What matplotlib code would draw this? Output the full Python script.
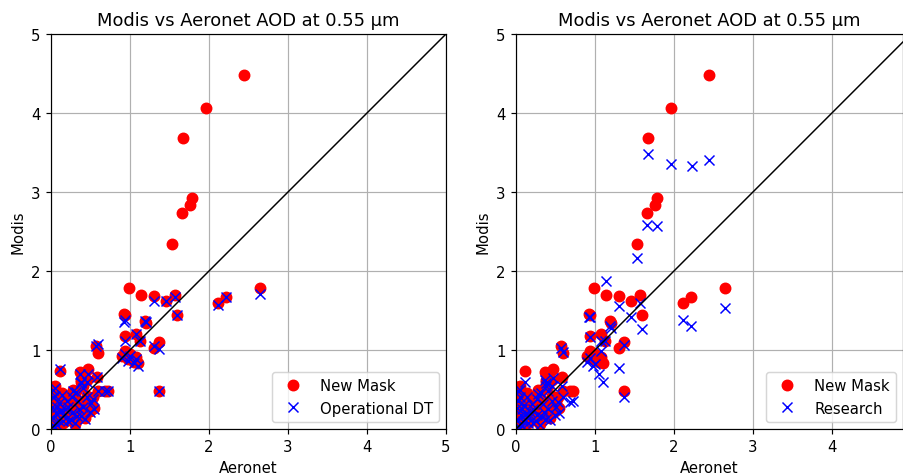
import numpy as np
import matplotlib
matplotlib.use("Agg")
import matplotlib.pyplot as plt

nan = np.nan

# Aeronet AOD and the matching Modis retrievals (nan = no retrieval)
aeronet = [2.44, 1.96, 1.67, 1.78, 1.76, 1.66, 1.53, 2.23,
           0.99, 1.14, 1.30, 1.46, 1.57, 2.12, 2.21, 2.65, 0.92, 0.94, 1.19, 1.20,
           1.60, 0.94, 1.08, 1.13, 1.37, 1.30, 0.57, 0.60, 0.94, 1.08, 1.00, 1.05,
           1.10, 1.37, 0.11, 0.37, 0.47, 0.58, 0.68, 0.72, 0.90, 0.97,
           0.38, 0.59, 0.38, 0.32, 0.26, 0.36, 0.38, 0.51, 0.55, 0.49, 0.05, 0.03,
           0.07, 0.13, 0.17, 0.22, 0.09, 0.03, 0.30, 0.43, 0.01, 0.03, 0.05, 0.34,
           0.45, 0.22, 0.26, 0.12, 0.15, 0.02, 0.08, 0.20, 0.28, 0.41, 0.33, 0.18,
           0.10, 0.06, 0.25, 0.46, 0.53, 0.40, 0.04, 0.14]
new_mask = [4.48, 4.06, 3.68, 2.92, 2.84, 2.73, 2.34, nan,
            1.78, 1.70, 1.68, 1.62, 1.70, 1.60, 1.67, 1.78, 1.46, 1.44, 1.37, 1.34,
            1.44, 1.18, 1.20, 1.12, 1.10, 1.03, 1.05, 0.96, 0.99, 0.91, 0.95, 0.85,
            0.83, 0.48, 0.74, 0.72, 0.76, 0.66, 0.48, 0.48, 0.92, 0.88,
            0.59, 0.48, 0.15, 0.48, 0.42, 0.25, 0.62, 0.34, 0.27, 0.23, 0.55, 0.42,
            0.30, 0.25, 0.17, 0.11, 0.11, 0.06, 0.06, 0.14, 0.30, 0.53, 0.44, 0.36,
            0.42, 0.30, 0.21, 0.20, 0.08, 0.15, 0.05, 0.38, 0.50, 0.55, 0.18, 0.26,
            0.35, 0.22, 0.12, 0.62, 0.40, 0.30, 0.02, 0.45]
operational_dt = [nan, nan, nan, nan, nan, nan, nan, nan,
                  nan, nan, 1.62, 1.62, 1.67, 1.57, 1.67, 1.71, 1.36, 1.38, 1.37, 1.35,
                  1.44, 1.12, 1.20, 1.12, 1.01, 1.05, 1.05, 1.07, 0.95, 0.88, 0.92, 0.83,
                  0.80, 0.48, 0.76, 0.70, 0.70, 0.66, 0.48, 0.48, 0.90, 0.86,
                  0.58, 0.48, 0.17, 0.47, 0.40, 0.25, 0.60, 0.33, 0.25, 0.22, 0.52, 0.40,
                  0.28, 0.24, 0.18, 0.10, 0.12, 0.05, 0.07, 0.13, 0.28, 0.50, 0.42, 0.35,
                  0.40, 0.28, 0.20, 0.22, 0.10, 0.14, 0.05, 0.36, 0.48, 0.52, 0.17, 0.25,
                  0.33, 0.20, 0.11, 0.60, 0.38, 0.28, 0.03, 0.43]
research = [3.40, 3.35, 3.48, 2.57, nan, 2.58, 2.17, 3.33,
            nan, 1.87, 1.56, 1.42, 1.59, 1.38, 1.30, 1.53, 1.42, 1.42, 1.31, 1.28,
            1.27, 1.17, 1.12, 1.12, 1.06, 0.77, 1.02, 0.97, 0.90, 0.99, 0.82, 0.70,
            0.59, 0.40, 0.59, 0.62, 0.65, 0.55, 0.34, 0.36, 0.85, 0.80,
            0.55, 0.40, 0.13, 0.45, 0.38, 0.22, 0.58, 0.28, 0.20, 0.18, 0.50, 0.36,
            0.25, 0.20, 0.15, 0.08, 0.10, 0.04, 0.05, 0.11, 0.26, 0.48, 0.40, 0.32,
            0.36, 0.25, 0.18, 0.18, 0.08, 0.12, 0.04, 0.32, 0.44, 0.48, 0.15, 0.22,
            0.30, 0.18, 0.10, 0.55, 0.34, 0.25, 0.02, 0.40]

title = "Modis vs Aeronet AOD at 0.55 µm"

dpi = 107
fig = plt.figure(figsize=(903 / dpi, 477 / dpi), dpi=dpi)
ax1 = fig.add_axes([51 / 903, 47 / 477, 395 / 903, 395 / 477])
ax2 = fig.add_axes([516 / 903, 47 / 477, 387 / 903, 395 / 477])

panels = [(ax1, operational_dt, "Operational DT", 5.0),
          (ax2, research, "Research", 4.9)]

for ax, other, label, xmax in panels:
    ax.plot(aeronet, new_mask, "o", color="red", markersize=7, label="New Mask")
    ax.plot(aeronet, other, "x", color="blue", markersize=7, label=label)
    ax.plot([0, xmax], [0, xmax], color="black", linewidth=1)
    ax.set_xlim(0, xmax)
    ax.set_ylim(0, 5)
    ax.set_xticks([0, 1, 2, 3, 4, 5] if xmax >= 5 else [0, 1, 2, 3, 4])
    ax.set_yticks([0, 1, 2, 3, 4, 5])
    ax.grid(True)
    ax.set_xlabel("Aeronet")
    ax.set_ylabel("Modis")
    ax.set_title(title)
    ax.legend(loc="lower right")

fig.savefig("out.png", dpi=dpi)
